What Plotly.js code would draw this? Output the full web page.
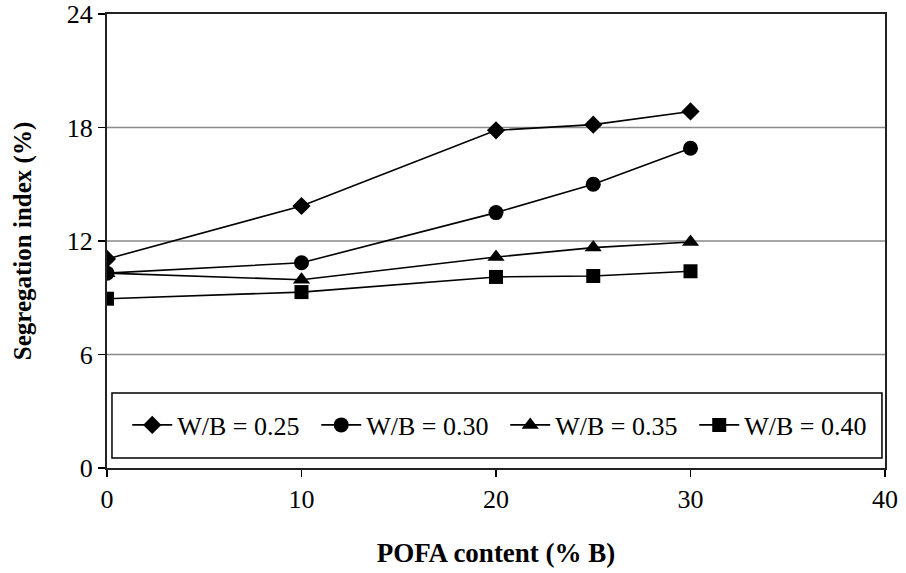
<!DOCTYPE html>
<html>
<head>
<meta charset="utf-8">
<script src="https://cdn.plot.ly/plotly-3.0.1.min.js"></script>
<style>html,body{margin:0;padding:0;background:#fff;}#chart{width:906px;height:573px;}</style>
</head>
<body>
<div id="chart"></div>
<script>
const pofa = [0, 10, 20, 25, 30];
const wb025 = [11.05, 13.85, 17.85, 18.15, 18.85];
const wb030 = [10.3, 10.85, 13.5, 15.0, 16.9];
const wb035 = [10.3, 9.95, 11.15, 11.65, 11.95];
const wb040 = [8.95, 9.3, 10.1, 10.15, 10.4];
const seriesNames = ["W/B = 0.25", "W/B = 0.30", "W/B = 0.35", "W/B = 0.40"];
const yTicks = [0, 6, 12, 18, 24];
const xTicks = [0, 10, 20, 30, 40];
const gridLevels = [6, 12, 18];

const symbols = ["diamond", "circle", "triangle-up", "square"];
const sizes = [14, 15, 15, 14];
const ys = [wb025, wb030, wb035, wb040];

const traces = ys.map((y, i) => ({
  x: pofa, y: y, name: seriesNames[i], type: "scatter", mode: "lines+markers",
  line: {color: "#000", width: 1.6},
  marker: {symbol: symbols[i], size: sizes[i], color: "#000"}
}));

const shapes = gridLevels.map(v => ({
  type: "line", xref: "paper", x0: 0, x1: 1, yref: "y", y0: v, y1: v,
  line: {color: "#8a8a8a", width: 1.5}, layer: "below"
}));
// legend frame
shapes.push({
  type: "rect", xref: "paper", yref: "paper", x0: 0.0064, x1: 0.9961, y0: 0.022, y1: 0.1652,
  line: {color: "#000", width: 1.5}, fillcolor: "#fff", layer: "below"
});

const font = "Liberation Serif, Times New Roman, serif";
const layout = {
  width: 906, height: 573,
  margin: {l: 107, r: 21, t: 14, b: 105},
  paper_bgcolor: "#fff", plot_bgcolor: "rgba(0,0,0,0)",
  font: {family: font, color: "#000", size: 26},
  showlegend: true,
  shapes: shapes,
  xaxis: {
    range: [0, 40], tickvals: xTicks, ticks: "outside", ticklen: 7, tickwidth: 1.3, tickcolor: "#000",
    showline: true, linecolor: "#222", linewidth: 2, mirror: true, showgrid: false, zeroline: false,
    tickfont: {family: font, size: 26},
    title: {text: "<b>POFA content (% B)</b>", font: {family: font, size: 27}, standoff: 30}
  },
  yaxis: {
    range: [0, 24], tickvals: yTicks, ticks: "outside", ticklen: 7, tickwidth: 1.3, tickcolor: "#000",
    showline: true, linecolor: "#222", linewidth: 2, mirror: true, showgrid: false, zeroline: false,
    tickfont: {family: font, size: 26},
    title: {text: "<b>Segregation index (%)</b>", font: {family: font, size: 25}, standoff: 28}
  },
  legend: {
    orientation: "h", x: 0.026, y: 0.0947, xanchor: "left", yanchor: "middle",
    bgcolor: "rgba(0,0,0,0)", borderwidth: 0,
    font: {family: font, size: 26}, itemwidth: 40, entrywidth: 134, tracegroupgap: 0,
    itemsizing: "trace"
  }
};

Plotly.newPlot("chart", traces, layout, {displayModeBar: false, staticPlot: true});
</script>
</body>
</html>
